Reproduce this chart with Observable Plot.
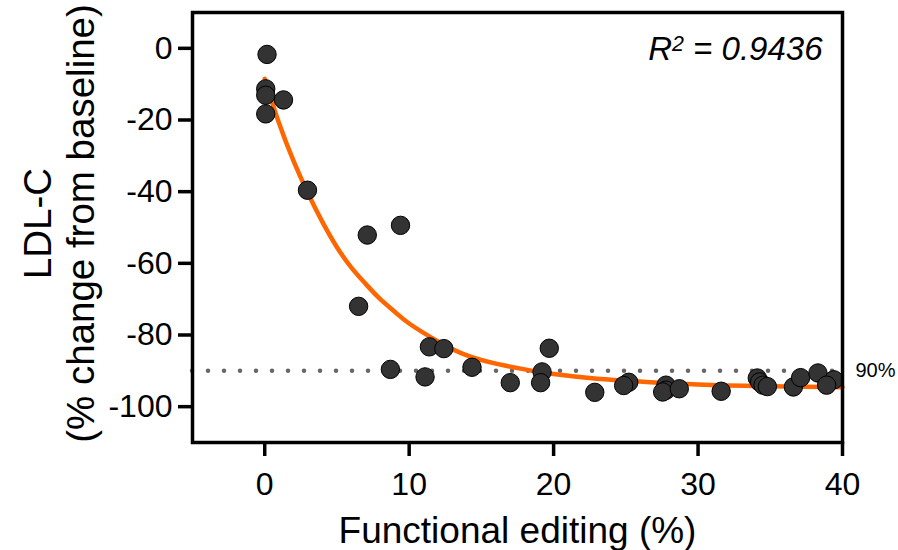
<!DOCTYPE html>
<html><head><meta charset="utf-8">
<script src="https://cdn.jsdelivr.net/npm/d3@7"></script>
<script src="https://cdn.jsdelivr.net/npm/@observablehq/plot@0.6"></script>
<style>
body{margin:0;background:#fff;}
#chart svg{font-family:"Liberation Sans",Arial,sans-serif;}
</style>
</head><body><div id="chart"></div>
<script>
// Scatter data: functional editing (%) vs LDL-C change (%)
const editing = [0.16, 0.07, 0.07, 1.3, 0.07, 2.96, 7.1, 9.4, 6.5, 8.7, 11.4, 12.4, 11.1, 14.35, 17.0, 19.7, 19.2, 19.1, 22.85, 25.2, 24.85, 27.78, 27.78, 27.55, 28.7, 31.6, 34.1, 34.26, 34.5, 34.8, 36.6, 37.1, 38.3, 39.4, 38.9];
const ldl = [-1.7, -11.3, -13.1, -14.4, -18.3, -39.6, -52.1, -49.4, -72.0, -89.6, -83.3, -83.8, -91.7, -89.0, -93.3, -83.7, -90.3, -93.3, -96.0, -93.2, -94.1, -94.0, -95.4, -95.9, -95.0, -95.7, -92.0, -93.1, -94.0, -94.4, -94.5, -91.9, -90.6, -92.5, -94.0];
// Fitted curve
const fitX = [0, 1, 2, 3, 4, 5, 6, 7, 8, 9, 10, 12, 14, 16, 18, 20, 23, 26, 30, 35, 40];
const fitY = [-8.5, -21, -31.5, -40.5, -48.5, -55.5, -61.2, -65.8, -70, -73.5, -76.8, -81.8, -85.7, -88.0, -89.6, -90.9, -92.2, -93.0, -93.8, -94.3, -94.6];
const xTicks = [0, 10, 20, 30, 40];
const yTicks = [0, -20, -40, -60, -80, -100];
const threshold = [-90];
const thresholdLabel = ["90%"];
const r2Label = ["R2 = 0.9436"];
const xTitle = ["Functional editing (%)"];
const yTitle = ["LDL-C\n(% change from baseline)"];

const points = editing.map((x, i) => ({x, y: ldl[i]}));
const fit = fitX.map((x, i) => ({x, y: fitY[i]}));

const chart = Plot.plot({
  width: 898, height: 550,
  marginLeft: 192, marginRight: 56, marginTop: 12, marginBottom: 108,
  style: {background: "white", color: "black", fontFamily: "'Liberation Sans', Arial, sans-serif"},
  x: {domain: [-5, 40]},
  y: {domain: [-110, 10]},
  marks: [
    Plot.ruleY(threshold, {stroke: "#666", strokeWidth: 4.5, strokeDasharray: "0 16", strokeLinecap: "round"}),
    Plot.line(fit, {x: "x", y: "y", stroke: "#ff6600", strokeWidth: 4.5, curve: "natural"}),
    Plot.dot(points, {x: "x", y: "y", r: 9.2, fill: "#333", stroke: "#000", strokeWidth: 1}),
    Plot.frame({stroke: "black", strokeWidth: 3.5}),
    Plot.axisX({ticks: xTicks, tickSize: 14, strokeWidth: 3.5, tickPadding: 16, fontSize: 32, label: null, tickFormat: d => String(d)}),
    Plot.axisY({ticks: yTicks, tickSize: 14, strokeWidth: 3.5, tickPadding: 6, fontSize: 32, label: null, tickFormat: d => String(d)}),
    Plot.text(thresholdLabel, {x: 40, y: threshold[0], text: d => d, dx: 13, textAnchor: "start", fontSize: 20}),
    Plot.text(r2Label, {frameAnchor: "top-right", text: d => d, dx: -20, dy: 37, lineAnchor: "middle", fontSize: 33, fontStyle: "italic"}),
    Plot.text(xTitle, {frameAnchor: "bottom", text: d => d, dy: 89, lineAnchor: "middle", fontSize: 37}),
    Plot.text(yTitle, {frameAnchor: "left", text: d => d, rotate: -90, dx: -134, dy: -4, textAnchor: "middle", lineAnchor: "middle", fontSize: 38.5, lineHeight: 1.14})
  ]
});
document.getElementById("chart").appendChild(chart);

// superscript the 2 in R2
d3.select(chart).selectAll("text").filter(function() { return this.textContent === r2Label[0]; })
  .each(function() {
    const t = d3.select(this);
    t.text(null);
    t.append("tspan").text("R");
    t.append("tspan").attr("dy", "-0.4em").attr("font-size", "0.65em").text("2");
    t.append("tspan").attr("dy", "0.26em").text(" = 0.9436");
  });
</script>
</body></html>
